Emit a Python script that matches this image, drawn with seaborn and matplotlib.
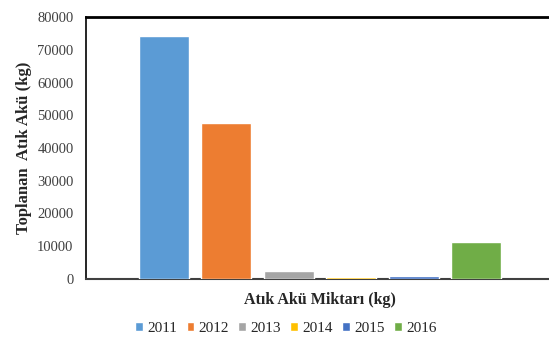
import matplotlib
matplotlib.use("Agg")
import matplotlib.pyplot as plt
import seaborn as sns
import pandas as pd

years = ["2011", "2012", "2013", "2014", "2015", "2016"]
values = [74200, 47600, 2400, 500, 900, 11400]
colors = ["#5B9BD5", "#ED7D31", "#A5A5A5", "#FFC000", "#4472C4", "#70AD47"]
yticks = [0, 10000, 20000, 30000, 40000, 50000, 60000, 70000, 80000]

df = pd.DataFrame({"grp": ["Atık Akü"] * len(years), "year": years, "value": values})

sns.set_style("white")
plt.rcParams["font.family"] = ["Liberation Serif", "DejaVu Serif"]

fig = plt.figure(figsize=(5.49, 3.38), dpi=100)
ax = fig.add_axes([86 / 549, 1 - 279 / 338, (554 - 86) / 549, (279 - 17) / 338])

sns.barplot(data=df, x="grp", y="value", hue="year", palette=colors,
            gap=0.2, width=0.8, ax=ax, saturation=1, legend=True)
for p in ax.patches:
    p.set_zorder(3)

ax.set_xlim(-0.5, 0.5)
ax.set_ylim(0, 80000)
ax.set_yticks(yticks)
ax.set_yticklabels([str(v) for v in yticks], fontsize=10.5, color="#404040",
                   family=["Liberation Serif", "DejaVu Serif"])
ax.set_xticks([])
ax.tick_params(axis="y", length=0, pad=9)

ax.set_xlabel("Atık Akü Miktarı (kg)", fontsize=11.5, fontweight="bold", labelpad=9)
ax.set_ylabel("Toplanan  Atık Akü (kg)", fontsize=12, fontweight="bold", labelpad=4)

for s in ["left", "top", "right"]:
    ax.spines[s].set_color("black")
ax.spines["left"].set_linewidth(1.2)
ax.spines["top"].set_linewidth(2)
ax.spines["bottom"].set_color("#404040")
ax.spines["bottom"].set_linewidth(1.5)
ax.spines["right"].set_visible(False)

h, l = ax.get_legend_handles_labels()
ax.legend_.remove()
fig.legend(h, l, loc="center", bbox_to_anchor=(0.521, 0.028), ncol=6, frameon=False,
           prop={"family": ["Liberation Serif", "DejaVu Serif"], "size": 11},
           handlelength=0.5, handleheight=0.5, handletextpad=0.3,
           columnspacing=0.6)

fig.savefig("out.png", dpi=100)
